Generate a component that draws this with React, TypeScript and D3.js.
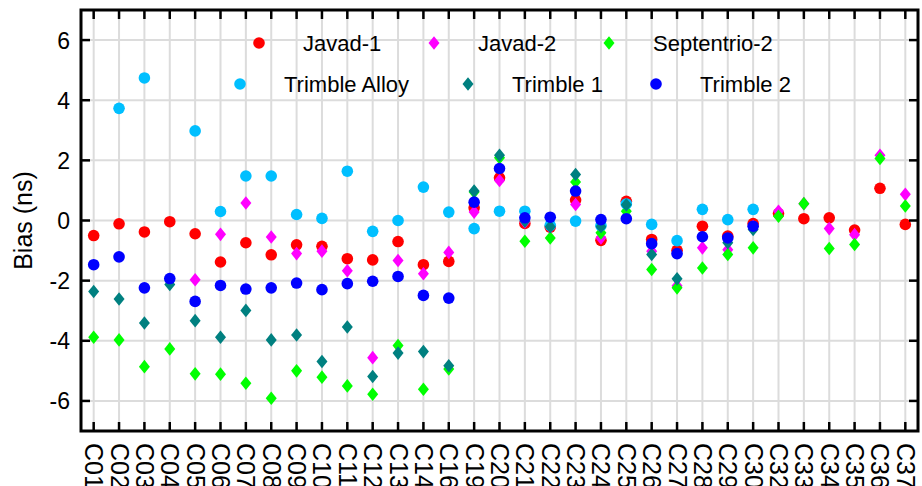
import { useEffect, useRef } from 'react';
import * as d3 from 'd3';

const categories = [
  'C01', 'C02', 'C03', 'C04', 'C05', 'C06', 'C07', 'C08', 'C09', 'C10', 'C11',
  'C12', 'C13', 'C14', 'C16', 'C19', 'C20', 'C21', 'C22', 'C23', 'C24', 'C25',
  'C26', 'C27', 'C28', 'C29', 'C30', 'C32', 'C33', 'C34', 'C35', 'C36', 'C37',
];

type V = number | null;

const javad1: V[] = [
  -0.5, -0.11, -0.38, -0.04, -0.44, -1.38, -0.74, -1.14, -0.81, -0.86, -1.27,
  -1.31, -0.7, -1.47, -1.36, 0.42, 1.42, -0.1, -0.22, 0.68, -0.66, 0.64,
  -0.63, -0.99, -0.19, -0.52, -0.1, 0.23, 0.06, 0.09, -0.32, 1.07, -0.13,
];
const javad2: V[] = [
  null, null, null, null, -1.97, -0.46, 0.58, -0.55, -1.1, -1.02, -1.67,
  -4.56, -1.33, -1.77, -1.06, 0.28, 1.33, -0.05, -0.22, 0.53, -0.58, 0.52,
  -1.02, -2.17, -0.91, -0.97, -0.2, 0.31, 0.56, -0.27, -0.47, 2.17, 0.87,
];
const septentrio2: V[] = [
  -3.88, -3.97, -4.86, -4.27, -5.1, -5.11, -5.41, -5.91, -5.0, -5.21, -5.5,
  -5.78, -4.16, -5.61, -4.94, 0.95, 2.09, -0.69, -0.58, 1.28, -0.41, 0.31,
  -1.63, -2.24, -1.58, -1.13, -0.91, 0.14, 0.56, -0.93, -0.8, 2.06, 0.48,
];
const trimbleAlloy: V[] = [
  null, 3.73, 4.74, null, 2.98, 0.3, 1.48, 1.48, 0.2, 0.07, 1.64,
  -0.36, 0.0, 1.11, 0.28, -0.27, 0.31, 0.31, -0.16, -0.02, -0.17, 0.55,
  -0.13, -0.67, 0.37, 0.03, 0.37, null, null, null, null, null, null,
];
const trimble1: V[] = [
  -2.36, -2.61, -3.41, -2.13, -3.33, -3.88, -2.99, -3.97, -3.81, -4.69, -3.54,
  -5.19, -4.41, -4.36, -4.83, 0.98, 2.17, -0.02, -0.21, 1.53, -0.21, 0.52,
  -1.13, -1.94, null, -0.74, -0.3, null, null, null, null, null, null,
];
const trimble2: V[] = [
  -1.47, -1.21, -2.24, -1.93, -2.69, -2.16, -2.28, -2.24, -2.08, -2.3, -2.1,
  -2.02, -1.86, -2.49, -2.58, 0.61, 1.73, 0.09, 0.11, 0.98, 0.03, 0.06,
  -0.77, -1.1, -0.54, -0.58, -0.19, null, null, null, null, null, null,
];

const yTicks = [-6, -4, -2, 0, 2, 4, 6];

const series = [
  { name: 'Javad-1', values: javad1, color: '#ff0000', shape: 'circle', lx: 259, ly: 43 },
  { name: 'Javad-2', values: javad2, color: '#ff00ff', shape: 'diamond', lx: 434, ly: 43 },
  { name: 'Septentrio-2', values: septentrio2, color: '#00ff00', shape: 'diamond', lx: 609, ly: 43 },
  { name: 'Trimble Alloy', values: trimbleAlloy, color: '#00bfff', shape: 'circle', lx: 240, ly: 84 },
  { name: 'Trimble 1', values: trimble1, color: '#008080', shape: 'diamond', lx: 468, ly: 84 },
  { name: 'Trimble 2', values: trimble2, color: '#0000ff', shape: 'circle', lx: 656, ly: 84 },
];

const W = 922;
const H = 486;
const margin = { top: 10, right: 4, bottom: 55, left: 81 };
const FONT = '"Liberation Sans", Arial, sans-serif';

function drawMarker(g: d3.Selection<SVGGElement, unknown, null, undefined>, shape: string, x: number, y: number, color: string) {
  if (shape === 'circle') {
    g.append('circle').attr('cx', x).attr('cy', y).attr('r', 5.8).attr('fill', color);
  } else {
    const dx = 5.5;
    const dy = 6.8;
    g.append('path')
      .attr('d', `M${x},${y - dy}L${x + dx},${y}L${x},${y + dy}L${x - dx},${y}Z`)
      .attr('fill', color);
  }
}

export default function App() {
  const svgRef = useRef<SVGSVGElement>(null);

  useEffect(() => {
    if (!svgRef.current) return;
    const svg = d3.select(svgRef.current);
    svg.selectAll('*').remove();

    const innerW = W - margin.left - margin.right;
    const innerH = H - margin.top - margin.bottom;

    const x = d3.scalePoint<string>().domain(categories).range([0, innerW]).padding(0.5);
    const y = d3.scaleLinear().domain([-7, 7]).range([innerH, 0]);

    const g = svg.append('g').attr('transform', `translate(${margin.left},${margin.top})`);

    // grid
    g.selectAll('.vgrid')
      .data(categories)
      .enter()
      .append('line')
      .attr('x1', (d) => x(d)!)
      .attr('x2', (d) => x(d)!)
      .attr('y1', 0)
      .attr('y2', innerH)
      .attr('stroke', '#dcdcdc')
      .attr('stroke-width', 2);
    g.selectAll('.hgrid')
      .data(yTicks)
      .enter()
      .append('line')
      .attr('x1', 0)
      .attr('x2', innerW)
      .attr('y1', (d) => y(d))
      .attr('y2', (d) => y(d))
      .attr('stroke', '#dcdcdc')
      .attr('stroke-width', 2);

    // points
    series.forEach((s) => {
      const sg = g.append('g');
      s.values.forEach((v, i) => {
        if (v === null) return;
        drawMarker(sg, s.shape, x(categories[i])!, y(v), s.color);
      });
    });

    // legend
    const lg = svg.append('g');
    series.forEach((s) => {
      drawMarker(lg, s.shape, s.lx, s.ly, s.color);
      lg.append('text')
        .attr('x', s.lx + 44)
        .attr('y', s.ly + 8)
        .attr('font-family', FONT)
        .attr('font-size', 22)
        .attr('fill', '#000')
        .text(s.name);
    });

    // ticks
    const tickLen = 9;
    categories.forEach((c) => {
      const cx = x(c)!;
      g.append('line').attr('x1', cx).attr('x2', cx).attr('y1', 0).attr('y2', tickLen)
        .attr('stroke', '#000').attr('stroke-width', 2.5);
      g.append('line').attr('x1', cx).attr('x2', cx).attr('y1', innerH).attr('y2', innerH - tickLen)
        .attr('stroke', '#000').attr('stroke-width', 2.5);
      g.append('text')
        .attr('transform', `translate(${cx - 8.5},${innerH + 12}) rotate(90)`)
        .attr('font-family', FONT)
        .attr('font-size', 25)
        .attr('fill', '#000')
        .text(c);
    });
    yTicks.forEach((t) => {
      const ty = y(t);
      g.append('line').attr('x1', 0).attr('x2', tickLen).attr('y1', ty).attr('y2', ty)
        .attr('stroke', '#000').attr('stroke-width', 2.5);
      g.append('line').attr('x1', innerW).attr('x2', innerW - tickLen).attr('y1', ty).attr('y2', ty)
        .attr('stroke', '#000').attr('stroke-width', 2.5);
      g.append('text')
        .attr('x', -11)
        .attr('y', ty + 8.5)
        .attr('text-anchor', 'end')
        .attr('font-family', FONT)
        .attr('font-size', 23)
        .attr('fill', '#000')
        .text(String(t));
    });

    // frame
    g.append('rect')
      .attr('x', 0)
      .attr('y', 0)
      .attr('width', innerW)
      .attr('height', innerH)
      .attr('fill', 'none')
      .attr('stroke', '#000')
      .attr('stroke-width', 3);

    // y label
    svg.append('text')
      .attr('transform', `translate(${32},${margin.top + innerH / 2}) rotate(-90)`)
      .attr('text-anchor', 'middle')
      .attr('font-family', FONT)
      .attr('font-size', 25)
      .attr('fill', '#000')
      .text('Bias (ns)');
  }, []);

  return (
    <svg
      ref={svgRef}
      width={W}
      height={H}
      style={{ position: 'absolute', left: 0, top: 0, display: 'block', background: '#fff' }}
    />
  );
}
